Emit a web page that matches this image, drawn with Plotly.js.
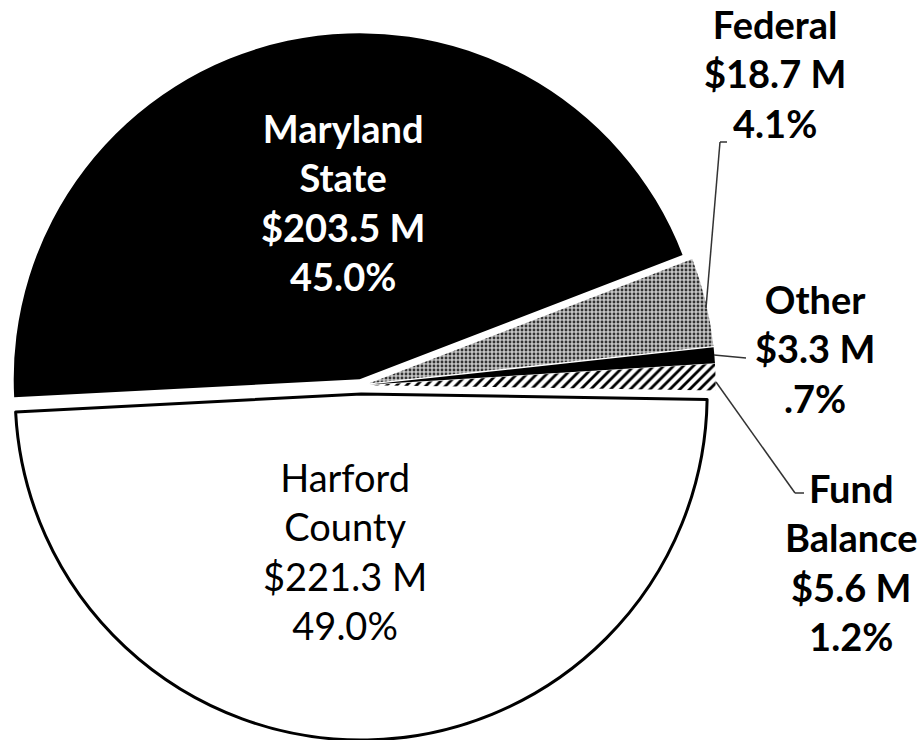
<!DOCTYPE html>
<html>
<head>
<meta charset="utf-8">
<script src="https://cdn.plot.ly/plotly-3.0.1.min.js"></script>
<style>html,body{margin:0;padding:0;background:#fff;}#chart{width:923px;height:740px;}</style>
</head>
<body>
<div id="chart"></div>
<script>
// Data
var categories = ["Maryland State", "Federal", "Other", "Fund Balance", "Harford County"];
var amounts = [203.5, 18.7, 3.3, 5.6, 221.3];
var amountLabels = ["$203.5 M", "$18.7 M", "$3.3 M", "$5.6 M", "$221.3 M"];
var percentLabels = ["45.0%", "4.1%", ".7%", "1.2%", "49.0%"];
var nameLabels = ["Maryland<br>State", "Federal", "Other", "Fund<br>Balance", "Harford<br>County"];

var W = 923, H = 740;
function px(x){ return x / W; }
function py(y){ return 1 - y / H; }

var trace = {
  type: "pie",
  labels: categories,
  values: amounts,
  sort: false,
  direction: "clockwise",
  rotation: -93,
  textinfo: "none",
  hoverinfo: "label+value+percent",
  pull: [0.018, 0.025, 0.025, 0.025, 0.025],
  domain: {x: [0.00688, 0.77535], y: [0, 0.9585]},
  marker: {
    colors: ["#000000", "#a8a8a8", "#000000", "#ffffff", "#ffffff"],
    line: {color: "#000000", width: [0, 0, 0, 0, 3]},
    pattern: {
      shape: ["", ".", "", "/", ""],
      fgcolor: ["#000000", "#333333", "#000000", "#000000", "#000000"],
      bgcolor: ["#000000", "#c4c4c4", "#000000", "#ffffff", "#ffffff"],
      size: [8, 4, 8, 7, 8],
      solidity: [0.3, 0.4, 0.3, 0.4, 0.3]
    }
  },
  showlegend: false
};

function lbl(i){ return nameLabels[i] + "<br>" + amountLabels[i] + "<br>" + percentLabels[i]; }

var annotations = [
  {x: px(343), y: py(202), text: lbl(0), font: {family: "Lato", size: 38, color: "#ffffff", weight: "bold"}},
  {x: px(345), y: py(551), text: lbl(4), font: {family: "Lato", size: 38, color: "#000000"}},
  {x: px(775), y: py(74), text: lbl(1), font: {family: "Lato", size: 38, color: "#000000", weight: "bold"}},
  {x: px(815), y: py(349), text: lbl(2), font: {family: "Lato", size: 38, color: "#000000", weight: "bold"}},
  {x: px(851), y: py(562), text: lbl(3), font: {family: "Lato", size: 38, color: "#000000", weight: "bold"}}
].map(function(a){
  a.xref = "paper"; a.yref = "paper"; a.showarrow = false;
  a.xanchor = "center"; a.yanchor = "middle"; a.align = "center";
  return a;
});

function seg(x0, y0, x1, y1){
  return {type: "line", xref: "paper", yref: "paper",
    x0: px(x0), y0: py(y0), x1: px(x1), y1: py(y1),
    line: {color: "#333333", width: 1.5}};
}
var shapes = [
  seg(727, 142, 720, 142), seg(720, 142, 706, 308),
  seg(714, 355, 746, 358),
  seg(716, 382, 795, 493), seg(795, 493, 804, 493)
];

var layout = {
  width: W, height: H,
  margin: {l: 0, r: 0, t: 0, b: 0},
  paper_bgcolor: "#ffffff",
  plot_bgcolor: "#ffffff",
  annotations: annotations,
  shapes: shapes,
  showlegend: false
};

Plotly.newPlot("chart", [trace], layout, {displayModeBar: false, staticPlot: true});
</script>
</body>
</html>
